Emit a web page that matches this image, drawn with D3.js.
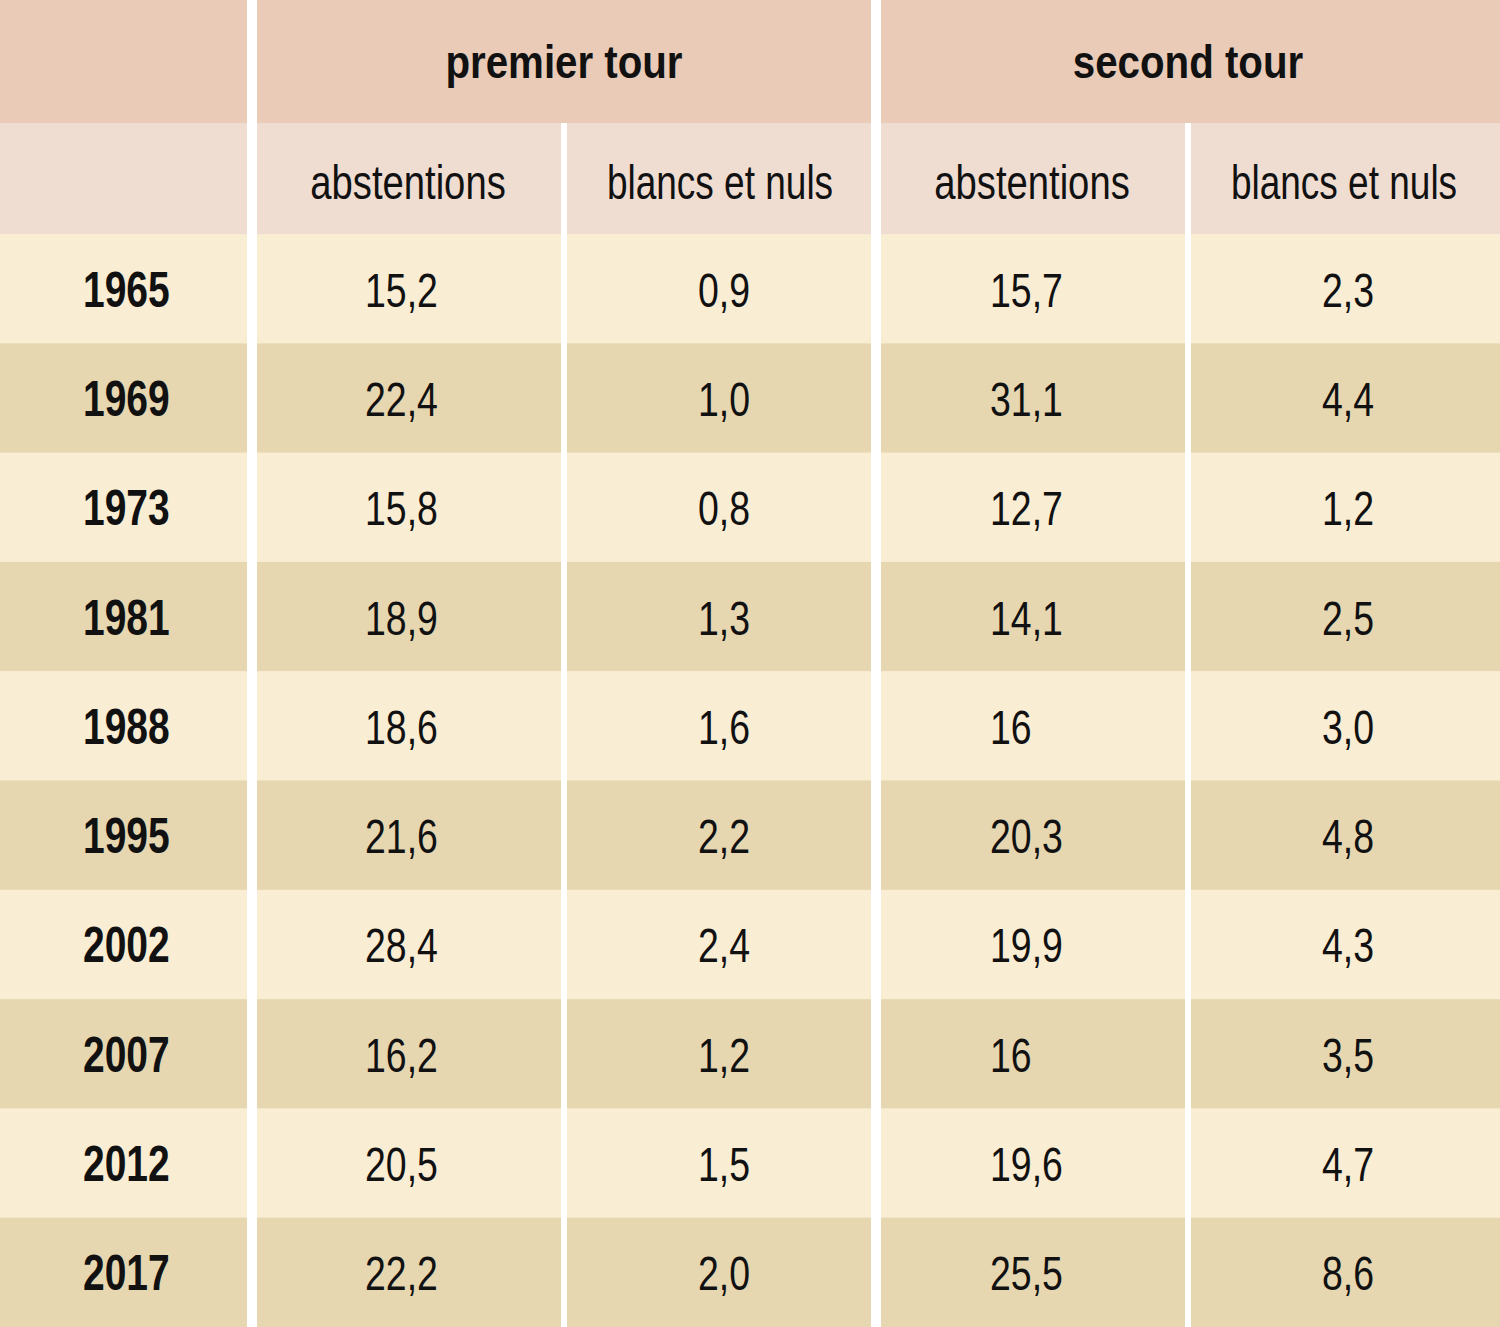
<!DOCTYPE html>
<html>
<head>
<meta charset="utf-8">
<script src="https://cdn.jsdelivr.net/npm/d3@7"></script>
<style>
  html, body { margin: 0; padding: 0; background: #ffffff; }
  svg { display: block; }
  text { font-family: "Liberation Sans", Arial, sans-serif; fill: #111; }
</style>
</head>
<body>
<svg id="chart" width="1500" height="1327"></svg>
<script>
// ---- data ----
const years = ["1965", "1969", "1973", "1981", "1988", "1995", "2002", "2007", "2012", "2017"];
const groupHeaders = ["premier tour", "second tour"];
const subHeaders = ["abstentions", "blancs et nuls", "abstentions", "blancs et nuls"];
const premierAbstentions = ["15,2", "22,4", "15,8", "18,9", "18,6", "21,6", "28,4", "16,2", "20,5", "22,2"];
const premierBlancsNuls  = ["0,9", "1,0", "0,8", "1,3", "1,6", "2,2", "2,4", "1,2", "1,5", "2,0"];
const secondAbstentions  = ["15,7", "31,1", "12,7", "14,1", "16", "20,3", "19,9", "16", "19,6", "25,5"];
const secondBlancsNuls   = ["2,3", "4,4", "1,2", "2,5", "3,0", "4,8", "4,3", "3,5", "4,7", "8,6"];

// ---- layout ----
const W = 1500, H = 1327;
const cols = [
  {x0: 0,    x1: 247,  textX: 83},
  {x0: 257,  x1: 561,  textX: 365},
  {x0: 567,  x1: 871,  textX: 698},
  {x0: 881,  x1: 1185, textX: 990},
  {x0: 1191, x1: 1500, textX: 1322}
];
const subCenters = [408, 720, 1032, 1344];
const groupSpans = [{x0: 257, x1: 871, cx: 564}, {x0: 881, x1: 1500, cx: 1188}];
const headerTop = 0, headerMid = 123, headerBottom = 234;
const condense = 0.78;

const colors = {
  head: "#e9cbb8",
  sub: "#f0ddd1",
  light: "#f9edd4",
  dark: "#e6d7b1"
};

const svg = d3.select("#chart");
svg.append("rect").attr("width", W).attr("height", H).attr("fill", "#ffffff");

const y = d3.scaleBand().domain(years).range([headerBottom, H]).padding(0);

// header row 1
svg.append("rect").attr("x", cols[0].x0).attr("y", headerTop)
  .attr("width", cols[0].x1 - cols[0].x0).attr("height", headerMid - headerTop).attr("fill", colors.head);
svg.selectAll("rect.group").data(groupSpans).join("rect")
  .attr("class", "group")
  .attr("x", d => d.x0).attr("y", headerTop)
  .attr("width", d => d.x1 - d.x0).attr("height", headerMid - headerTop)
  .attr("fill", colors.head);
svg.selectAll("text.group").data(groupHeaders).join("text")
  .attr("class", "group")
  .attr("transform", (d, i) => `translate(${groupSpans[i].cx},78) scale(0.875,1)`)
  .attr("text-anchor", "middle")
  .attr("font-size", 46)
  .attr("font-weight", "bold")
  .text(d => d);

// header row 2
svg.selectAll("rect.sub").data(cols).join("rect")
  .attr("class", "sub")
  .attr("x", d => d.x0).attr("y", headerMid)
  .attr("width", d => d.x1 - d.x0).attr("height", headerBottom - headerMid)
  .attr("fill", colors.sub);
svg.selectAll("text.sub").data(subHeaders).join("text")
  .attr("class", "sub")
  .attr("transform", (d, i) => `translate(${subCenters[i]},199) scale(${i % 2 === 1 ? 0.755 : condense},1)`)
  .attr("text-anchor", "middle")
  .attr("font-size", 49)
  .text(d => d);

// data rows
const columnsData = [years, premierAbstentions, premierBlancsNuls, secondAbstentions, secondBlancsNuls];
const rows = years.map((yr, r) => ({yr, r, cells: columnsData.map(c => c[r])}));

const rowG = svg.selectAll("g.row").data(rows).join("g").attr("class", "row");
rowG.selectAll("rect").data(d => cols.map((c, i) => ({c, i, r: d.r, yr: d.yr}))).join("rect")
  .attr("x", d => d.c.x0)
  .attr("y", d => y(d.yr))
  .attr("width", d => d.c.x1 - d.c.x0)
  .attr("height", y.bandwidth() + 0.5)
  .attr("fill", d => d.r % 2 === 0 ? colors.light : colors.dark);
rowG.selectAll("text").data(d => d.cells.map((v, i) => ({v, i, yr: d.yr}))).join("text")
  .attr("transform", d => `translate(${cols[d.i].textX},${y(d.yr) + y.bandwidth() / 2 + 18}) scale(${condense},1)`)
  .attr("font-size", d => d.i === 0 ? 50 : 48)
  .attr("font-weight", d => d.i === 0 ? "bold" : "normal")
  .text(d => d.v);
</script>
</body>
</html>
